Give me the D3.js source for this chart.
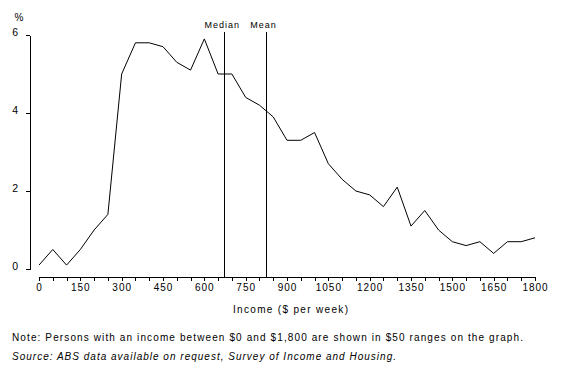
<!DOCTYPE html>
<html lang="en">
<head>
<meta charset="utf-8">
<script src="https://d3js.org/d3.v7.min.js"></script>
<style>
  body { margin: 0; background: #fff; }
  svg { display: block; font-family: "Liberation Sans", Arial, sans-serif; }
</style>
</head>
<body>
<script>
// income band start ($ per week) and share of persons (%)
var incomes = [0, 50, 100, 150, 200, 250, 300, 350, 400, 450, 500, 550, 600, 650, 700,
  750, 800, 850, 900, 950, 1000, 1050, 1100, 1150, 1200, 1250, 1300, 1350, 1400,
  1450, 1500, 1550, 1600, 1650, 1700, 1750, 1800];
var percents = [0.1, 0.5, 0.1, 0.5, 1.0, 1.4, 5.0, 5.8, 5.8, 5.7, 5.3, 5.1, 5.9, 5.0, 5.0,
  4.4, 4.2, 3.9, 3.3, 3.3, 3.5, 2.7, 2.3, 2.0, 1.9, 1.6, 2.1, 1.1, 1.5,
  1.0, 0.7, 0.6, 0.7, 0.4, 0.7, 0.7, 0.8];
var yTicks = [0, 2, 4, 6];
var markers = [{ label: "Median", value: 672 }, { label: "Mean", value: 822 }];

var width = 564, height = 381;

var svg = d3.select("body").append("svg")
  .attr("width", width)
  .attr("height", height);

var x = d3.scaleLinear().domain([0, 1800]).range([39, 535]);
var y = d3.scaleLinear().domain([0, 6]).range([269, 35]);

// x axis, minor ticks every 50, labels every 150
var xAxis = d3.axisBottom(x)
  .tickValues(d3.range(0, 1801, 50))
  .tickFormat(function (d) { return d % 150 === 0 ? d : ""; })
  .tickSize(4)
  .tickSizeOuter(0)
  .tickPadding(3);

var gx = svg.append("g")
  .attr("transform", "translate(0,277)")
  .call(xAxis);
gx.selectAll("text")
  .attr("font-size", 10)
  .attr("letter-spacing", 1)
  .attr("fill", "#000");

var yAxis = d3.axisLeft(y)
  .tickValues(yTicks)
  .tickFormat(d3.format("d"))
  .tickSize(4)
  .tickSizeOuter(0)
  .tickPadding(8);

var gy = svg.append("g")
  .attr("transform", "translate(30,0)")
  .call(yAxis);
gy.selectAll("text")
  .attr("font-size", 10.5)
  .attr("dy", "0.05em")
  .attr("fill", "#000");

svg.selectAll(".domain, .tick line")
  .attr("stroke", "#000")
  .attr("shape-rendering", "crispEdges");
svg.selectAll("g").attr("font-family", null);

svg.append("text")
  .attr("x", 19)
  .attr("y", 20.5)
  .attr("text-anchor", "middle")
  .attr("font-size", 10)
  .text("%");

// median and mean markers
var mk = svg.selectAll(".marker")
  .data(markers)
  .enter().append("g")
  .attr("class", "marker");

mk.append("line")
  .attr("x1", function (d) { return Math.round(x(d.value)) + 0.5; })
  .attr("x2", function (d) { return Math.round(x(d.value)) + 0.5; })
  .attr("y1", 32)
  .attr("y2", 277)
  .attr("stroke", "#000")
  .attr("stroke-width", 1)
  .attr("shape-rendering", "crispEdges");

mk.append("text")
  .attr("x", function (d) { return x(d.value) - 2; })
  .attr("y", 28)
  .attr("text-anchor", "middle")
  .attr("font-size", 9)
  .attr("letter-spacing", 1)
  .text(function (d) { return d.label; });

// data line
var line = d3.line()
  .x(function (d, i) { return x(incomes[i]); })
  .y(function (d) { return y(d); });

svg.append("path")
  .datum(percents)
  .attr("fill", "none")
  .attr("stroke", "#000")
  .attr("stroke-width", 1)
  .attr("d", line);

svg.append("text")
  .attr("x", 233)
  .attr("y", 313)
  .attr("font-size", 10)
  .attr("textLength", 115)
  .attr("lengthAdjust", "spacing")
  .text("Income ($ per week)");

svg.append("text")
  .attr("x", 12)
  .attr("y", 341)
  .attr("font-size", 10)
  .attr("textLength", 511)
  .attr("lengthAdjust", "spacing")
  .text("Note: Persons with an income between $0 and $1,800 are shown in $50 ranges on the graph.");

svg.append("text")
  .attr("x", 12)
  .attr("y", 360)
  .attr("font-size", 10)
  .attr("font-style", "italic")
  .attr("textLength", 384)
  .attr("lengthAdjust", "spacing")
  .text("Source: ABS data available on request, Survey of Income and Housing.");
</script>
</body>
</html>
